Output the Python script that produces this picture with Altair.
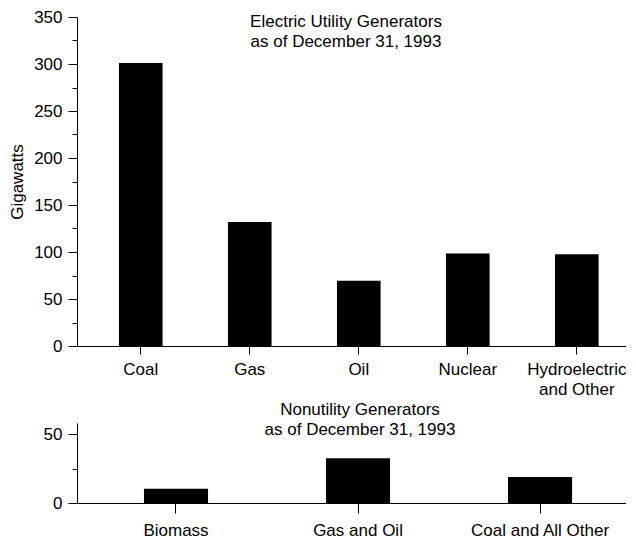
import altair as alt
import pandas as pd

# ---- data ----
util_cats = ["Coal", "Gas", "Oil", "Nuclear", "Hydroelectric|and Other"]
util_vals = [301, 132, 69.5, 98.5, 97.5]
nonutil_cats = ["Biomass", "Gas and Oil", "Coal and All Other"]
nonutil_vals = [10.3, 32.5, 18.9]
top_ticks = list(range(0, 351, 25))
bottom_ticks = [0, 25, 50]
top_title = ["Electric Utility Generators", "as of December 31, 1993"]
bottom_title = ["Nonutility Generators", "as of December 31, 1993"]
y_title = "Gigawatts"

FONT = "Liberation Sans"
FS = 17

df_top = pd.DataFrame({"cat": util_cats, "val": util_vals})
df_bot = pd.DataFrame({"cat": nonutil_cats, "val": nonutil_vals})
df_top_title = pd.DataFrame({"t": ["\n".join(top_title)]})
df_bot_title = pd.DataFrame({"t": ["\n".join(bottom_title)]})

major_minor = {"condition": {"test": "datum.value % 50 === 0", "value": 9}, "value": 5}
label_major = "datum.value % 50 === 0 ? datum.label : ''"


def y_axis(values, title):
    kw = dict(
        values=values, labelExpr=label_major, tickSize=major_minor, grid=False,
        labelPadding=6, domainColor="black", tickColor="black", labelColor="black",
        labelFontSize=FS, labelFont=FONT,
    )
    if title:
        kw.update(title=title, titlePadding=7, titleFontSize=FS, titleFont=FONT,
                  titleFontWeight="normal", titleColor="black")
    else:
        kw.update(title=None)
    return alt.Axis(**kw)


def x_axis(tick, pad):
    return alt.Axis(
        title=None, labelAngle=0, labelExpr="split(datum.label, '|')", tickSize=tick,
        labelPadding=pad, labelLineHeight=20, labelFontSize=FS, labelFont=FONT,
        labelColor="black", domainColor="black", tickColor="black",
    )


def title_text(df, x, y):
    return (
        alt.Chart(df)
        .mark_text(lineBreak="\n", lineHeight=20, align="center", baseline="top",
                   fontSize=FS, font=FONT, color="black")
        .encode(text="t:N", x=alt.value(x), y=alt.value(y))
    )


W = 549

top_bars = (
    alt.Chart(df_top)
    .mark_bar(color="black")
    .encode(
        x=alt.X("cat:N", sort=util_cats,
                scale=alt.Scale(paddingInner=0.6, paddingOuter=0.318, align=0.605),
                axis=x_axis(8, 7)),
        y=alt.Y("val:Q", scale=alt.Scale(domain=[0, 350], nice=False),
                axis=y_axis(top_ticks, y_title)),
    )
)
top = alt.layer(top_bars, title_text(df_top_title, 269, -3)).properties(width=W, height=329)

bot_bars = (
    alt.Chart(df_bot)
    .mark_bar(color="black")
    .encode(
        x=alt.X("cat:N", sort=nonutil_cats,
                scale=alt.Scale(paddingInner=0.648, paddingOuter=0.332, align=0.554),
                axis=x_axis(10, 9)),
        y=alt.Y("val:Q", scale=alt.Scale(domain=[0, 58], nice=False),
                axis=y_axis(bottom_ticks, None)),
    )
)
bottom = alt.layer(bot_bars, title_text(df_bot_title, 283, -21)).properties(width=W, height=80)

chart = (
    alt.vconcat(top, bottom, spacing=4, padding=0)
    .configure(background="white", padding=0)
    .configure_view(stroke=None)
)

chart.save("out.html", embed_options={"renderer": "svg", "actions": False})
